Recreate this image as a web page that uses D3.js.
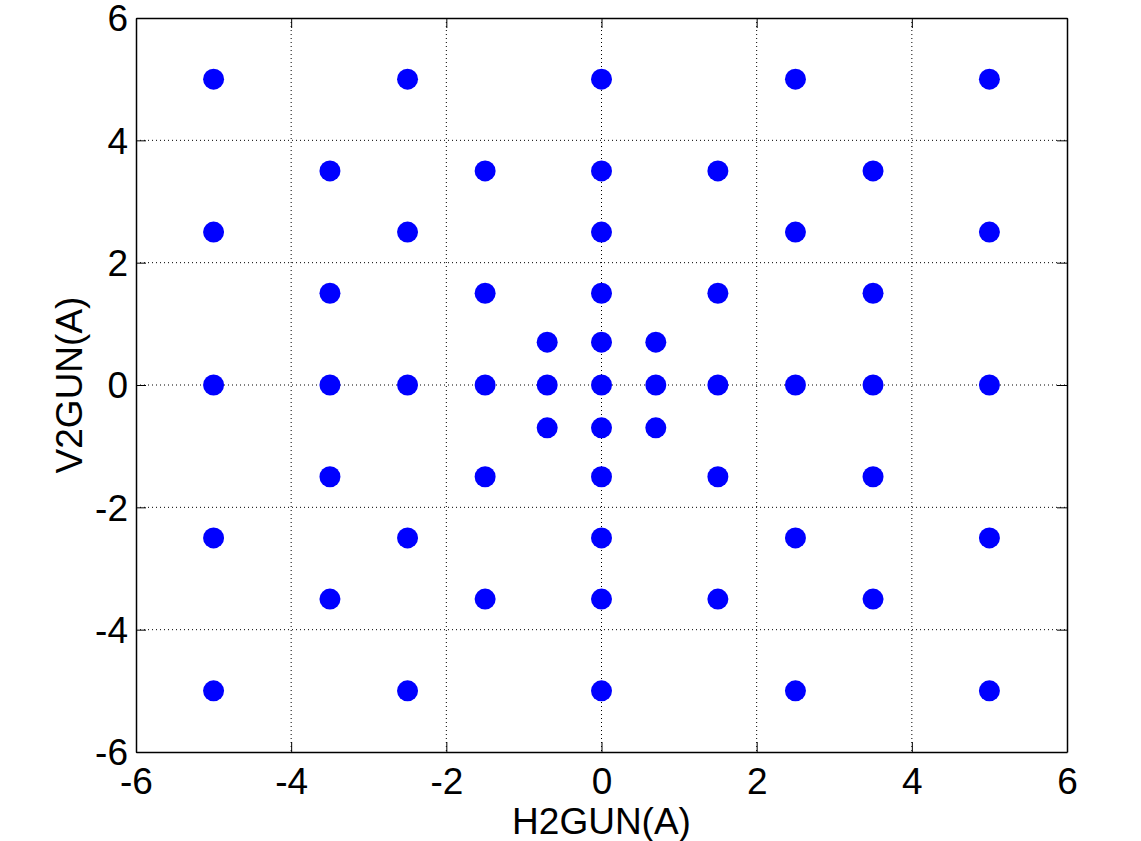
<!DOCTYPE html>
<html><head><meta charset="utf-8">
<script src="https://cdn.jsdelivr.net/npm/d3@7"></script>
<style>body{margin:0;background:#fff}</style>
</head><body>
<script>
const xValues = [-5,-2.5,0,2.5,5, -3.5,-1.5,0,1.5,3.5, -5,-2.5,0,2.5,5, -3.5,-1.5,0,1.5,3.5, -0.7,0,0.7,
  -5,-3.5,-2.5,-1.5,-0.7,0,0.7,1.5,2.5,3.5,5,
  -0.7,0,0.7, -3.5,-1.5,0,1.5,3.5, -5,-2.5,0,2.5,5, -3.5,-1.5,0,1.5,3.5, -5,-2.5,0,2.5,5];
const yValues = [5,5,5,5,5, 3.5,3.5,3.5,3.5,3.5, 2.5,2.5,2.5,2.5,2.5, 1.5,1.5,1.5,1.5,1.5, 0.7,0.7,0.7,
  0,0,0,0,0,0,0,0,0,0,0,
  -0.7,-0.7,-0.7, -1.5,-1.5,-1.5,-1.5,-1.5, -2.5,-2.5,-2.5,-2.5,-2.5, -3.5,-3.5,-3.5,-3.5,-3.5, -5,-5,-5,-5,-5];
const xTicks = [-6,-4,-2,0,2,4,6];
const yTicks = [-6,-4,-2,0,2,4,6];
const xLabel = "H2GUN(A)";
const yLabel = "V2GUN(A)";

const W = 1141, H = 841;
const m = {left:136, top:18, right:1067, bottom:752};
const FONT = "Arial, 'Liberation Sans', sans-serif";
const svg = d3.select("body").append("svg").attr("width",W).attr("height",H)
  .style("font-family",FONT);
const x = d3.scaleLinear().domain([-6,6]).range([m.left,m.right]);
const y = d3.scaleLinear().domain([-6,6]).range([m.bottom,m.top]);

// grid
const g = svg.append("g");
g.selectAll("line.gx").data(xTicks.slice(1,-1)).join("line")
  .attr("x1",d=>x(d)).attr("x2",d=>x(d)).attr("y1",m.top).attr("y2",m.bottom)
  .attr("stroke","#000").attr("stroke-width",1).attr("stroke-dasharray","1,3");
g.selectAll("line.gy").data(yTicks.slice(1,-1)).join("line")
  .attr("y1",d=>y(d)).attr("y2",d=>y(d)).attr("x1",m.left).attr("x2",m.right)
  .attr("stroke","#000").attr("stroke-width",1).attr("stroke-dasharray","1,3");

// points
svg.append("g").selectAll("circle").data(xValues.map((v,i)=>[v,yValues[i]])).join("circle")
  .attr("cx",d=>x(d[0])).attr("cy",d=>y(d[1])).attr("r",10.5).attr("fill","#0000ff");

// axes (ticks inward)
const tl = 10;
const axB = svg.append("g").attr("transform",`translate(0,${m.bottom})`)
  .call(d3.axisBottom(x).tickValues(xTicks).tickSize(-tl).tickPadding(16).tickSizeOuter(0).tickFormat(d3.format("d")));
const axT = svg.append("g").attr("transform",`translate(0,${m.top})`)
  .call(d3.axisTop(x).tickValues(xTicks).tickSize(-tl).tickSizeOuter(0).tickFormat(""));
const axL = svg.append("g").attr("transform",`translate(${m.left},0)`)
  .call(d3.axisLeft(y).tickValues(yTicks).tickSize(-tl).tickPadding(8).tickSizeOuter(0).tickFormat(d3.format("d")));
const axR = svg.append("g").attr("transform",`translate(${m.right},0)`)
  .call(d3.axisRight(y).tickValues(yTicks).tickSize(-tl).tickSizeOuter(0).tickFormat(""));
[axB,axT,axL,axR].forEach(a=>{
  a.select(".domain").attr("stroke","#000").attr("stroke-width",1.5);
  a.selectAll(".tick line").attr("stroke","#000").attr("stroke-width",1);
  a.selectAll("text").attr("fill","#000").style("font-size","37px").style("font-family",FONT);
});
axB.selectAll("text").attr("dy","0.71em");
axL.selectAll("text").attr("dy","0.35em");
axB.selectAll("text").text(d=>d<0?"-"+Math.abs(d):String(d));
axL.selectAll("text").text(d=>d<0?"-"+Math.abs(d):String(d));

svg.append("text").attr("x",(m.left+m.right)/2).attr("y",834).attr("text-anchor","middle")
  .style("font-size","37px").attr("fill","#000").text(xLabel);
svg.append("text").attr("transform",`translate(82,${(m.top+m.bottom)/2}) rotate(-90)`).attr("text-anchor","middle")
  .style("font-size","37px").attr("fill","#000").text(yLabel);
</script>
</body></html>
